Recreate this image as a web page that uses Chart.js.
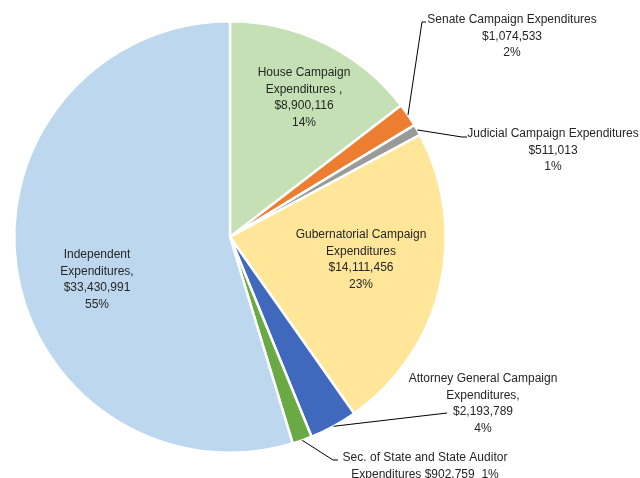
<!DOCTYPE html>
<html>
<head>
<meta charset="utf-8">
<script src="https://cdn.jsdelivr.net/npm/chart.js@4"></script>
<style>
  html, body { margin: 0; padding: 0; background: #fff; }
  #wrap { width: 640px; height: 478px; position: relative; }
</style>
</head>
<body>
<div id="wrap"><canvas id="myChart" width="640" height="478"></canvas></div>
<script>
// Dados do gráfico
const categories = [
  'House Campaign Expenditures',
  'Senate Campaign Expenditures',
  'Judicial Campaign Expenditures',
  'Gubernatorial Campaign Expenditures',
  'Attorney General Campaign Expenditures',
  'Sec. of State and State Auditor Expenditures',
  'Independent Expenditures'
]
const amounts = [8900116, 1074533, 511013, 14111456, 2193789, 902759, 33430991]
const percentLabels = ['14%', '2%', '1%', '23%', '4%', '1%', '55%']
const sliceColors = ['#c5e0b4', '#ed7d31', '#9a9a9a', '#ffe699', '#4068bc', '#6aaa44', '#bdd7ee']

// Texto de cada rótulo (linhas)
const labelLines = [
  ['House Campaign', 'Expenditures ,', '$8,900,116', '14%'],
  ['Senate Campaign Expenditures', '$1,074,533', '2%'],
  ['Judicial Campaign Expenditures', '$511,013', '1%'],
  ['Gubernatorial Campaign', 'Expenditures', '$14,111,456', '23%'],
  ['Attorney General Campaign', 'Expenditures,', '$2,193,789', '4%'],
  ['Sec. of State and State Auditor', 'Expenditures $902,759  1%'],
  ['Independent', 'Expenditures,', '$33,430,991', '55%']
]

// Posição do rótulo (centro da primeira linha) e cotovelo da linha guia
const labelLayout = [
  { x: 304, y: 73, inside: true },
  { x: 512, y: 20, elbow: [422, 22], end: [426, 22] },
  { x: 553, y: 134, elbow: [462, 137], end: [467, 137] },
  { x: 361, y: 235, inside: true },
  { x: 483, y: 379, end: [447, 413] },
  { x: 425, y: 458, elbow: [333, 460], end: [338, 460] },
  { x: 97, y: 255, inside: true }
]

const labelPlugin = {
  id: 'pieLabels',
  afterDatasetsDraw(chart) {
    const ctx = chart.ctx
    const meta = chart.getDatasetMeta(0)
    ctx.save()
    ctx.font = '12px "Liberation Sans Narrow", "Liberation Sans", sans-serif'
    ctx.textAlign = 'center'
    ctx.textBaseline = 'middle'
    meta.data.forEach((arc, i) => {
      const lay = labelLayout[i]
      // Linha guia a partir da borda da fatia
      if (!lay.inside) {
        const mid = (arc.startAngle + arc.endAngle) / 2
        const sx = arc.x + Math.cos(mid) * arc.outerRadius
        const sy = arc.y + Math.sin(mid) * arc.outerRadius
        ctx.strokeStyle = '#000'
        ctx.lineWidth = 1
        ctx.beginPath()
        ctx.moveTo(sx, sy)
        if (lay.elbow) ctx.lineTo(lay.elbow[0], lay.elbow[1])
        ctx.lineTo(lay.end[0], lay.end[1])
        ctx.stroke()
      }
      ctx.fillStyle = '#262626'
      labelLines[i].forEach((line, k) => {
        ctx.fillText(line, lay.x, lay.y + k * 16.5)
      })
    })
    ctx.restore()
  }
}

const ctx = document.getElementById('myChart').getContext('2d')
new Chart(ctx, {
  type: 'pie',
  data: {
    labels: categories,
    datasets: [{
      data: amounts,
      backgroundColor: sliceColors,
      borderColor: '#ffffff',
      borderWidth: 2.5
    }]
  },
  options: {
    responsive: false,
    animation: false,
    layout: { padding: { left: 13, right: 193, top: 20, bottom: 24 } },
    plugins: {
      legend: { display: false },
      tooltip: { enabled: false }
    }
  },
  plugins: [labelPlugin]
})
</script>
</body>
</html>
